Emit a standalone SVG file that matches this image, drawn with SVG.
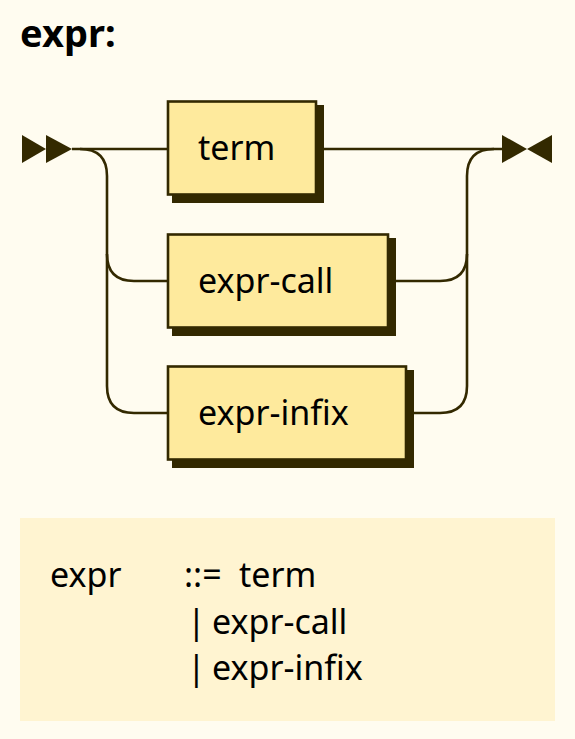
<svg xmlns="http://www.w3.org/2000/svg" width="575" height="739" viewBox="0 0 575 739">
<style>
.line{fill:none;stroke:#332900;stroke-width:2.6}
.box{fill:#FEEA9D;stroke:#332900;stroke-width:2.6}
.shadow{fill:#332900}
.mark{fill:#332900}
.t{font-family:"Noto Sans","Open Sans",sans-serif;font-size:34px;fill:#000}
.title{font-family:"Noto Sans","Open Sans",sans-serif;font-size:38px;font-weight:bold;fill:#000}
.ebnf{font-family:"Noto Sans","Open Sans",sans-serif;font-size:34px;fill:#000}
</style>
<rect x="0" y="0" width="575" height="739" fill="#FFFCF0"/>
<text class="title" x="20" y="47">expr:</text>
<g id="start">
<polygon class="mark" points="22,135 46,149 22,163"/>
<polygon class="mark" points="46,135 72,149 46,163"/>
</g>
<g id="end">
<polygon class="mark" points="502,135 527,149 502,163"/>
<polygon class="mark" points="552,135 527,149 552,163"/>
</g>
<g id="connectors">
<path class="line" d="M72,149 H168"/>
<path class="line" d="M316,149 H502"/>
<path class="line" d="M80,149 Q107,149 107,176 V254 Q107,281 134,281 H168"/>
<path class="line" d="M107,254 V386 Q107,413 134,413 H168"/>
<path class="line" d="M390,281 H440 Q467,281 467,254 V176 Q467,149 494,149"/>
<path class="line" d="M408,413 H440 Q467,413 467,386 V254"/>
</g>
<g id="term">
<rect class="shadow" x="172" y="105" width="152" height="98"/>
<rect class="box" x="168" y="101.5" width="148" height="93"/>
<text class="t" x="198" y="160">term</text>
</g>
<g id="expr-call">
<rect class="shadow" x="172" y="238" width="224" height="98"/>
<rect class="box" x="168" y="234.5" width="220" height="93"/>
<text class="t" x="198" y="293">expr-call</text>
</g>
<g id="expr-infix">
<rect class="shadow" x="172" y="370" width="242" height="98"/>
<rect class="box" x="168" y="366.5" width="238" height="93"/>
<text class="t" x="198" y="425">expr-infix</text>
</g>
<g id="ebnf">
<rect x="20" y="518" width="535" height="203" fill="#FFF4D1"/>
<text class="ebnf" x="50" y="587">expr</text>
<text class="ebnf" x="184" y="587">::=</text>
<text class="ebnf" x="239" y="587">term</text>
<text class="ebnf" x="187" y="634">|</text>
<text class="ebnf" x="212" y="634">expr-call</text>
<text class="ebnf" x="187" y="680">|</text>
<text class="ebnf" x="212" y="680">expr-infix</text>
</g>
</svg>
